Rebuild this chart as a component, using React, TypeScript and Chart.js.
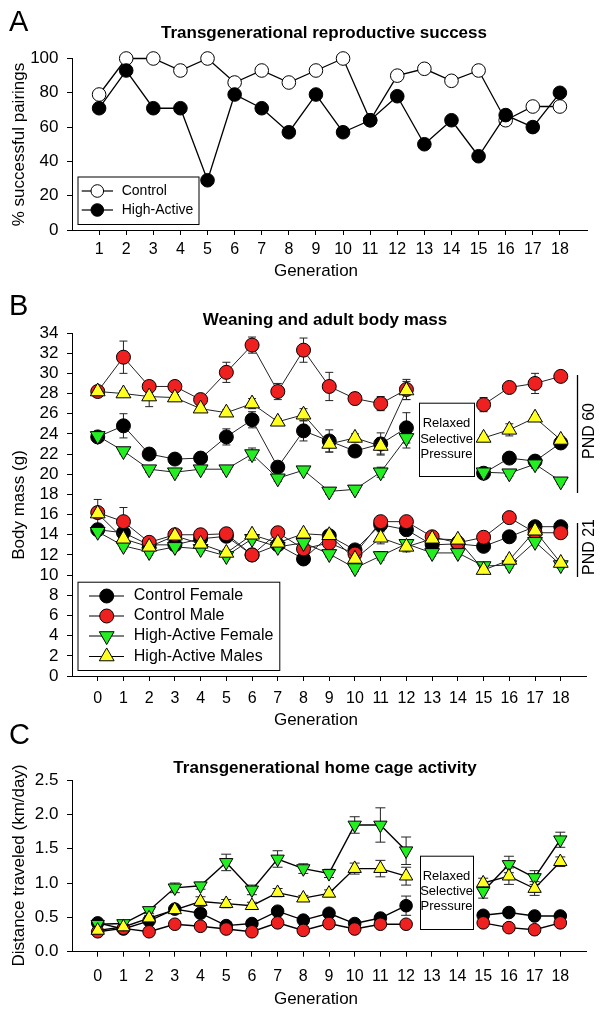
import React, { useEffect, useRef } from 'react';
import { Chart, registerables } from 'chart.js';

Chart.register(...registerables);

const FONT = "'Liberation Sans', Arial, Helvetica, sans-serif";

// ---------- Panel A: reproductive success ----------
const genA = [1, 2, 3, 4, 5, 6, 7, 8, 9, 10, 11, 12, 13, 14, 15, 16, 17, 18];
const controlA = [79, 100, 100, 93, 100, 86, 93, 86, 93, 100, 64, 90, 94, 87, 93, 64, 72, 72];
const highActiveA = [71, 93, 71, 71, 29, 79, 71, 57, 79, 57, 64, 78, 50, 64, 43, 67, 60, 80];
const yTicksA = [0, 20, 40, 60, 80, 100];

// ---------- Panel B: body mass ----------
const genB = [0, 1, 2, 3, 4, 5, 6, 7, 8, 9, 10, 11, 12, 13, 14, 15, 16, 17, 18];
const yTicksB = [0, 2, 4, 6, 8, 10, 12, 14, 16, 18, 20, 22, 24, 26, 28, 30, 32, 34];
// PND 60 (adult)
const cfAdult = [23.7, 24.8, 22.0, 21.5, 21.6, 23.7, 25.4, 20.7, 24.3, 23.3, 22.3, 23.0, 24.6, null, null, 20.1, 21.6, 21.3, 23.1];
const cmAdult = [28.2, 31.6, 28.7, 28.7, 27.4, 30.1, 32.8, 28.2, 32.3, 28.7, 27.5, 27.0, 28.4, null, null, 26.9, 28.6, 29.0, 29.7];
const hfAdult = [23.8, 22.3, 20.5, 20.2, 20.5, 20.5, 22.0, 19.6, 20.4, 18.3, 18.5, 20.2, 23.6, null, null, 20.2, 20.1, 21.0, 19.3];
const hmAdult = [28.2, 28.0, 27.7, 27.6, 26.5, 26.1, 27.0, 25.2, 25.9, 23.0, 23.6, 22.8, 28.3, null, null, 23.6, 24.4, 25.6, 23.4];
const cfAdultErr = [0.3, 1.2, 0.3, 0.3, 0.3, 0.8, 0.8, 0.3, 1.0, 1.1, 0.5, 1.1, 1.5, null, null, 0.3, 0.3, 0.3, 0.3];
const cmAdultErr = [0.3, 1.6, 0.3, 0.4, 0.4, 1.0, 0.8, 0.8, 1.2, 1.4, 0.6, 0.7, 1.0, null, null, 0.7, 0.5, 1.0, 0.5];
const hfAdultErr = [0.3, 0.3, 0.3, 0.3, 0.3, 0.3, 0.6, 0.3, 0.3, 0.3, 0.3, 0.5, 1.0, null, null, 0.3, 0.3, 0.4, 0.3];
const hmAdultErr = [0.3, 0.3, 1.0, 0.3, 0.3, 0.3, 0.5, 0.3, 0.6, 0.8, 0.4, 0.8, 0.9, null, null, 0.3, 0.6, 0.3, 0.3];
// PND 21 (weaning)
const cfWean = [14.5, 14.2, 13.0, 13.0, 13.6, 13.85, 12.0, 13.0, 11.6, 13.9, 12.5, 15.0, 14.5, 13.0, 13.1, 12.85, 13.8, 14.8, 14.8];
const cmWean = [16.2, 15.3, 13.25, 14.0, 14.0, 14.1, 12.0, 14.2, 12.6, 13.2, 12.1, 15.3, 15.3, 13.8, 13.2, 13.75, 15.7, 14.2, 14.2];
const hfWean = [14.3, 12.9, 12.3, 12.8, 12.6, 11.9, 13.6, 12.8, 13.2, 12.1, 10.7, 11.9, 13.1, 12.2, 12.2, 10.9, 11.0, 13.3, 11.0];
const hmWean = [16.1, 13.6, 12.8, 13.9, 13.1, 12.2, 14.0, 13.2, 14.1, 13.95, 11.6, 13.7, 12.8, 13.6, 13.5, 10.5, 11.5, 14.4, 11.2];
const cfWeanErr = [0.3, 0.3, 0.3, 0.3, 0.3, 0.3, 0.3, 0.3, 0.3, 0.3, 0.3, 0.3, 0.3, 0.3, 0.3, 0.3, 0.3, 0.3, 0.3];
const cmWeanErr = [1.3, 1.4, 0.3, 0.3, 0.3, 0.4, 0.3, 0.3, 0.3, 0.3, 0.3, 0.4, 0.4, 0.3, 0.3, 0.3, 0.3, 0.3, 0.3];
const hfWeanErr = [0.3, 0.3, 0.3, 0.3, 0.3, 0.3, 0.3, 0.3, 0.3, 0.3, 0.3, 0.4, 0.3, 0.3, 0.3, 0.3, 0.3, 0.3, 0.3];
const hmWeanErr = [0.5, 0.3, 0.3, 0.3, 0.3, 0.3, 0.3, 0.3, 0.3, 0.3, 0.3, 0.6, 0.5, 0.3, 0.3, 0.3, 0.3, 0.3, 0.3];

// ---------- Panel C: home cage activity ----------
const genC = [0, 1, 2, 3, 4, 5, 6, 7, 8, 9, 10, 11, 12, 13, 14, 15, 16, 17, 18];
const yTicksC = [0, 0.5, 1.0, 1.5, 2.0, 2.5];
const yTickLabelsC = ['0.0', '0.5', '1.0', '1.5', '2.0', '2.5'];
const cfC = [0.42, 0.33, 0.45, 0.62, 0.56, 0.38, 0.41, 0.59, 0.46, 0.56, 0.41, 0.49, 0.67, null, null, 0.53, 0.57, 0.52, 0.52];
const cmC = [0.29, 0.34, 0.29, 0.40, 0.37, 0.33, 0.29, 0.42, 0.31, 0.41, 0.33, 0.40, 0.40, null, null, 0.42, 0.35, 0.32, 0.42];
const hfC = [0.40, 0.41, 0.60, 0.93, 0.96, 1.30, 0.90, 1.35, 1.21, 1.14, 1.845, 1.845, 1.47, null, null, 0.88, 1.27, 1.08, 1.63];
const hmC = [0.31, 0.36, 0.49, 0.61, 0.73, 0.70, 0.67, 0.86, 0.78, 0.85, 1.21, 1.21, 1.10, null, null, 1.0, 1.10, 0.92, 1.31];
const cfCErr = [0.03, 0.03, 0.03, 0.04, 0.05, 0.03, 0.03, 0.04, 0.03, 0.05, 0.03, 0.03, 0.14, null, null, 0.03, 0.03, 0.03, 0.03];
const cmCErr = [0.03, 0.03, 0.03, 0.03, 0.03, 0.03, 0.03, 0.03, 0.03, 0.03, 0.03, 0.03, 0.04, null, null, 0.03, 0.03, 0.03, 0.03];
const hfCErr = [0.03, 0.03, 0.04, 0.07, 0.05, 0.12, 0.07, 0.12, 0.07, 0.06, 0.12, 0.25, 0.2, null, null, 0.1, 0.12, 0.1, 0.11];
const hmCErr = [0.03, 0.03, 0.04, 0.04, 0.07, 0.06, 0.05, 0.06, 0.04, 0.05, 0.08, 0.12, 0.13, null, null, 0.07, 0.12, 0.1, 0.07];

// ---------- styles ----------
type Shape = 'circle' | 'up' | 'down';
interface Style { shape: Shape; fill: string; }
const BLACK: Style = { shape: 'circle', fill: '#000000' };
const WHITE: Style = { shape: 'circle', fill: '#ffffff' };
const RED: Style = { shape: 'circle', fill: '#ee2020' };
const GREEN: Style = { shape: 'down', fill: '#22ee22' };
const YELLOW: Style = { shape: 'up', fill: '#ffff22' };

function series(xs: number[], ys: (number | null)[], st: Style, r: number, errs?: (number | null)[], line = '#000', lw = 1) {
  return {
    data: xs.map((x, i) => ({ x, y: ys[i] })),
    errors: errs,
    borderColor: line,
    borderWidth: lw,
    pointStyle: st.shape === 'circle' ? 'circle' : 'triangle',
    pointRotation: st.shape === 'down' ? 180 : 0,
    pointRadius: st.shape === 'circle' ? r : r * 1.22,
    pointBackgroundColor: st.fill,
    pointBorderColor: '#000',
    pointBorderWidth: 1,
    fill: false,
    tension: 0,
    spanGaps: false,
    clip: false,
  };
}

function drawMarker(ctx: CanvasRenderingContext2D, st: Style, x: number, y: number, r: number) {
  ctx.beginPath();
  if (st.shape === 'circle') {
    ctx.arc(x, y, r, 0, Math.PI * 2);
  } else {
    const rr = r * 1.22;
    let a = st.shape === 'down' ? Math.PI : 0;
    for (let k = 0; k < 3; k++) {
      const px = x + Math.sin(a) * rr, py = y - Math.cos(a) * rr;
      if (k === 0) ctx.moveTo(px, py); else ctx.lineTo(px, py);
      a += (2 * Math.PI) / 3;
    }
    ctx.closePath();
  }
  ctx.fillStyle = st.fill;
  ctx.fill();
  ctx.strokeStyle = '#000';
  ctx.lineWidth = 1;
  ctx.stroke();
}

const errorBars = (cap: number) => ({
  id: 'errorBars',
  beforeDatasetsDraw(chart: any) {
    const ctx = chart.ctx as CanvasRenderingContext2D;
    const xs = chart.scales.x, ys = chart.scales.y;
    chart.data.datasets.forEach((ds: any) => {
      if (!ds.errors) return;
      ctx.save();
      ctx.strokeStyle = '#222';
      ctx.lineWidth = 1;
      ds.data.forEach((p: any, i: number) => {
        const e = ds.errors[i];
        if (p.y == null || e == null) return;
        const x = xs.getPixelForValue(p.x);
        const y1 = ys.getPixelForValue(p.y + e), y2 = ys.getPixelForValue(p.y - e);
        ctx.beginPath();
        ctx.moveTo(x, y1); ctx.lineTo(x, y2);
        ctx.moveTo(x - cap, y1); ctx.lineTo(x + cap, y1);
        ctx.moveTo(x - cap, y2); ctx.lineTo(x + cap, y2);
        ctx.stroke();
      });
      ctx.restore();
    });
  },
});

interface Decor {
  letter: [string, number, number];
  title: [string, number, number];
  yLabel: [string, number, number];
  xLabel: [string, number, number];
  legend?: { box: number[]; items: { label: string; st: Style }[]; ys: number[]; mx: number; lx1: number; lx2: number; tx: number; font: number; r: number };
  note?: { box: number[]; lines: string[]; ys: number[]; cx: number };
  side?: { x: number; y1: number; y2: number; tx: number; ty: number; text: string }[];
}

const decor = (d: Decor) => ({
  id: 'decor',
  afterDraw(chart: any) {
    const ctx = chart.ctx as CanvasRenderingContext2D;
    ctx.save();
    ctx.fillStyle = '#000';
    // letter
    ctx.font = `29px ${FONT}`;
    ctx.textAlign = 'left';
    ctx.textBaseline = 'alphabetic';
    ctx.fillText(d.letter[0], d.letter[1], d.letter[2]);
    // title
    ctx.font = `bold 17px ${FONT}`;
    ctx.textAlign = 'center';
    ctx.textBaseline = 'middle';
    ctx.fillText(d.title[0], d.title[1], d.title[2]);
    // axis labels
    ctx.font = `17px ${FONT}`;
    ctx.fillText(d.xLabel[0], d.xLabel[1], d.xLabel[2]);
    ctx.save();
    ctx.translate(d.yLabel[1], d.yLabel[2]);
    ctx.rotate(-Math.PI / 2);
    ctx.fillText(d.yLabel[0], 0, 0);
    ctx.restore();
    // legend
    if (d.legend) {
      const L = d.legend;
      const [x1, y1, x2, y2] = L.box;
      ctx.fillStyle = '#fff';
      ctx.fillRect(x1, y1, x2 - x1, y2 - y1);
      ctx.strokeStyle = '#000';
      ctx.lineWidth = 1;
      ctx.strokeRect(x1 + 0.5, y1 + 0.5, x2 - x1, y2 - y1);
      L.items.forEach((it, i) => {
        const y = L.ys[i];
        ctx.beginPath();
        ctx.moveTo(L.lx1, y); ctx.lineTo(L.lx2, y);
        ctx.strokeStyle = '#000';
        ctx.lineWidth = 1.2;
        ctx.stroke();
        drawMarker(ctx, it.st, L.mx, y, L.r);
        ctx.fillStyle = '#000';
        ctx.font = `${L.font}px ${FONT}`;
        ctx.textAlign = 'left';
        ctx.textBaseline = 'middle';
        ctx.fillText(it.label, L.tx, y);
      });
    }
    // annotation box
    if (d.note) {
      const N = d.note;
      const [x1, y1, x2, y2] = N.box;
      ctx.fillStyle = '#fff';
      ctx.fillRect(x1, y1, x2 - x1, y2 - y1);
      ctx.strokeStyle = '#000';
      ctx.lineWidth = 1;
      ctx.strokeRect(x1 + 0.5, y1 + 0.5, x2 - x1, y2 - y1);
      ctx.fillStyle = '#000';
      ctx.font = `13px ${FONT}`;
      ctx.textAlign = 'center';
      ctx.textBaseline = 'middle';
      N.lines.forEach((t, i) => ctx.fillText(t, N.cx, N.ys[i]));
    }
    // side brackets
    if (d.side) {
      d.side.forEach((s) => {
        ctx.beginPath();
        ctx.moveTo(s.x + 0.5, s.y1); ctx.lineTo(s.x + 0.5, s.y2);
        ctx.strokeStyle = '#000';
        ctx.lineWidth = 1.3;
        ctx.stroke();
        ctx.save();
        ctx.translate(s.tx, s.ty);
        ctx.rotate(-Math.PI / 2);
        ctx.fillStyle = '#000';
        ctx.font = `16px ${FONT}`;
        ctx.textAlign = 'center';
        ctx.textBaseline = 'middle';
        ctx.fillText(s.text, 0, 0);
        ctx.restore();
      });
    }
    ctx.restore();
  },
});

interface AxisSpec {
  xmin: number; xmax: number; xticks: number[];
  ymin: number; ymax: number; yticks: number[]; ylabels?: string[];
  left: number; xh: number; xpad: number;
}

function scales(a: AxisSpec) {
  const grid = { display: true, drawOnChartArea: false, drawTicks: true, tickLength: 5, color: '#000', lineWidth: 1 };
  const border = { display: true, color: '#000', width: 1 };
  return {
    x: {
      type: 'linear', min: a.xmin, max: a.xmax,
      afterBuildTicks: (s: any) => { s.ticks = a.xticks.map((v) => ({ value: v })); },
      ticks: { font: { family: FONT, size: 16 }, color: '#000', padding: a.xpad, maxRotation: 0, autoSkip: false, callback: (v: any) => String(v) },
      grid, border,
      afterFit: (s: any) => { s.height = a.xh; s.paddingLeft = 0; s.paddingRight = 0; },
    },
    y: {
      type: 'linear', min: a.ymin, max: a.ymax,
      afterBuildTicks: (s: any) => { s.ticks = a.yticks.map((v) => ({ value: v })); },
      ticks: { font: { family: FONT, size: 17 }, color: '#000', padding: 8.5, autoSkip: false,
        callback: (v: any, i: number) => (a.ylabels ? a.ylabels[i] : String(v)) },
      grid, border,
      afterFit: (s: any) => { s.width = a.left; },
    },
  };
}

function baseOptions(W: number, H: number, top: number, right: number, bottom: number, a: AxisSpec) {
  return {
    responsive: false,
    animation: false,
    events: [],
    devicePixelRatio: 1,
    layout: { padding: { left: 0, top, right: W - right, bottom: H - bottom - a.xh } },
    plugins: { legend: { display: false }, tooltip: { enabled: false }, title: { display: false } },
    scales: scales(a),
  };
}

function buildA() {
  const W = 605, H = 285;
  const ax: AxisSpec = { xmin: 0, xmax: 19, xticks: genA, ymin: 0, ymax: 100, yticks: yTicksA, left: 72, xh: 40, xpad: 5 };
  return {
    type: 'line',
    data: {
      datasets: [
        series(genA, highActiveA, BLACK, 6.8, undefined, '#000', 1.3),
        series(genA, controlA, WHITE, 6.8, undefined, '#000', 1.3),
      ],
    },
    options: baseOptions(W, H, 58.5, 587, 230, ax),
    plugins: [decor({
      letter: ['A', 9, 31],
      title: ['Transgenerational reproductive success', 324, 33],
      yLabel: ['% successful pairings', 19, 144.5],
      xLabel: ['Generation', 316, 271],
      legend: {
        box: [77.5, 176.5, 198.5, 224], ys: [191, 210], mx: 97.3, lx1: 81.7, lx2: 113, tx: 121.7, font: 14, r: 6.3,
        items: [{ label: 'Control', st: WHITE }, { label: 'High-Active', st: BLACK }],
      },
    })],
  };
}

function buildB() {
  const W = 605, H = 445;
  const ax: AxisSpec = { xmin: -1, xmax: 19, xticks: genB, ymin: 0, ymax: 34, yticks: yTicksB, left: 72, xh: 40, xpad: 7.5 };
  const ln = '#222';
  return {
    type: 'line',
    data: {
      datasets: [
        series(genB, hmAdult, YELLOW, 7, hmAdultErr, ln, 1),
        series(genB, hmWean, YELLOW, 7, hmWeanErr, ln, 1),
        series(genB, hfAdult, GREEN, 7, hfAdultErr, ln, 1),
        series(genB, hfWean, GREEN, 7, hfWeanErr, ln, 1),
        series(genB, cmAdult, RED, 7, cmAdultErr, ln, 1),
        series(genB, cmWean, RED, 7, cmWeanErr, ln, 1),
        series(genB, cfAdult, BLACK, 7, cfAdultErr, ln, 1),
        series(genB, cfWean, BLACK, 7, cfWeanErr, ln, 1),
      ],
    },
    options: baseOptions(W, H, 48, 586.5, 391, ax),
    plugins: [errorBars(4), decor({
      letter: ['B', 9, 30],
      title: ['Weaning and adult body mass', 325, 35],
      yLabel: ['Body mass (g)', 19, 220],
      xLabel: ['Generation', 316, 435.6],
      legend: {
        box: [77.5, 296.7, 279.3, 385], ys: [311, 331, 351, 371.5], mx: 106.7, lx1: 89, lx2: 124, tx: 133.8, font: 16, r: 7,
        items: [
          { label: 'Control Female', st: BLACK },
          { label: 'Control Male', st: RED },
          { label: 'High-Active Female', st: GREEN },
          { label: 'High-Active Males', st: YELLOW },
        ],
      },
      note: { box: [419, 117.7, 474, 191], lines: ['Relaxed', 'Selective', 'Pressure'], ys: [138, 154, 169], cx: 446.5 },
      side: [
        { x: 577, y1: 90, y2: 208, tx: 590, ty: 146, text: 'PND 60' },
        { x: 577, y1: 238, y2: 292, tx: 590, ty: 262, text: 'PND 21' },
      ],
    })],
  };
}

function buildC() {
  const W = 605, H = 301;
  const ax: AxisSpec = { xmin: -1, xmax: 19, xticks: genC, ymin: 0, ymax: 2.5, yticks: yTicksC, ylabels: yTickLabelsC, left: 72, xh: 45, xpad: 10 };
  return {
    type: 'line',
    data: {
      datasets: [
        series(genC, hmC, YELLOW, 6.3, hmCErr, '#000', 1.4),
        series(genC, hfC, GREEN, 6.3, hfCErr, '#000', 1.4),
        series(genC, cmC, RED, 6.3, cmCErr, '#000', 1.4),
        series(genC, cfC, BLACK, 6.3, cfCErr, '#000', 1.4),
      ],
    },
    options: baseOptions(W, H, 65, 586, 236.7, ax),
    plugins: [errorBars(5), decor({
      letter: ['C', 9, 29],
      title: ['Transgenerational home cage activity', 325, 53],
      yLabel: ['Distance traveled (km/day)', 19, 150.5],
      xLabel: ['Generation', 316, 284],
      note: { box: [420, 140.7, 473, 214], lines: ['Relaxed', 'Selective', 'Pressure'], ys: [161.7, 176.7, 191.7], cx: 446.5 },
    })],
  };
}

function Panel({ top, height, build }: { top: number; height: number; build: () => any }) {
  const ref = useRef<HTMLCanvasElement>(null);
  useEffect(() => {
    const chart = new Chart(ref.current as HTMLCanvasElement, build());
    return () => chart.destroy();
  }, []);
  return (
    <canvas
      ref={ref}
      width={605}
      height={height}
      style={{ position: 'absolute', left: 0, top, width: 605, height, display: 'block' }}
    />
  );
}

export default function App() {
  return (
    <div style={{ position: 'absolute', left: 0, top: 0, width: 605, height: 1016, background: '#fff', overflow: 'hidden' }}>
      <Panel top={0} height={285} build={buildA} />
      <Panel top={285} height={445} build={buildB} />
      <Panel top={715} height={301} build={buildC} />
    </div>
  );
}
